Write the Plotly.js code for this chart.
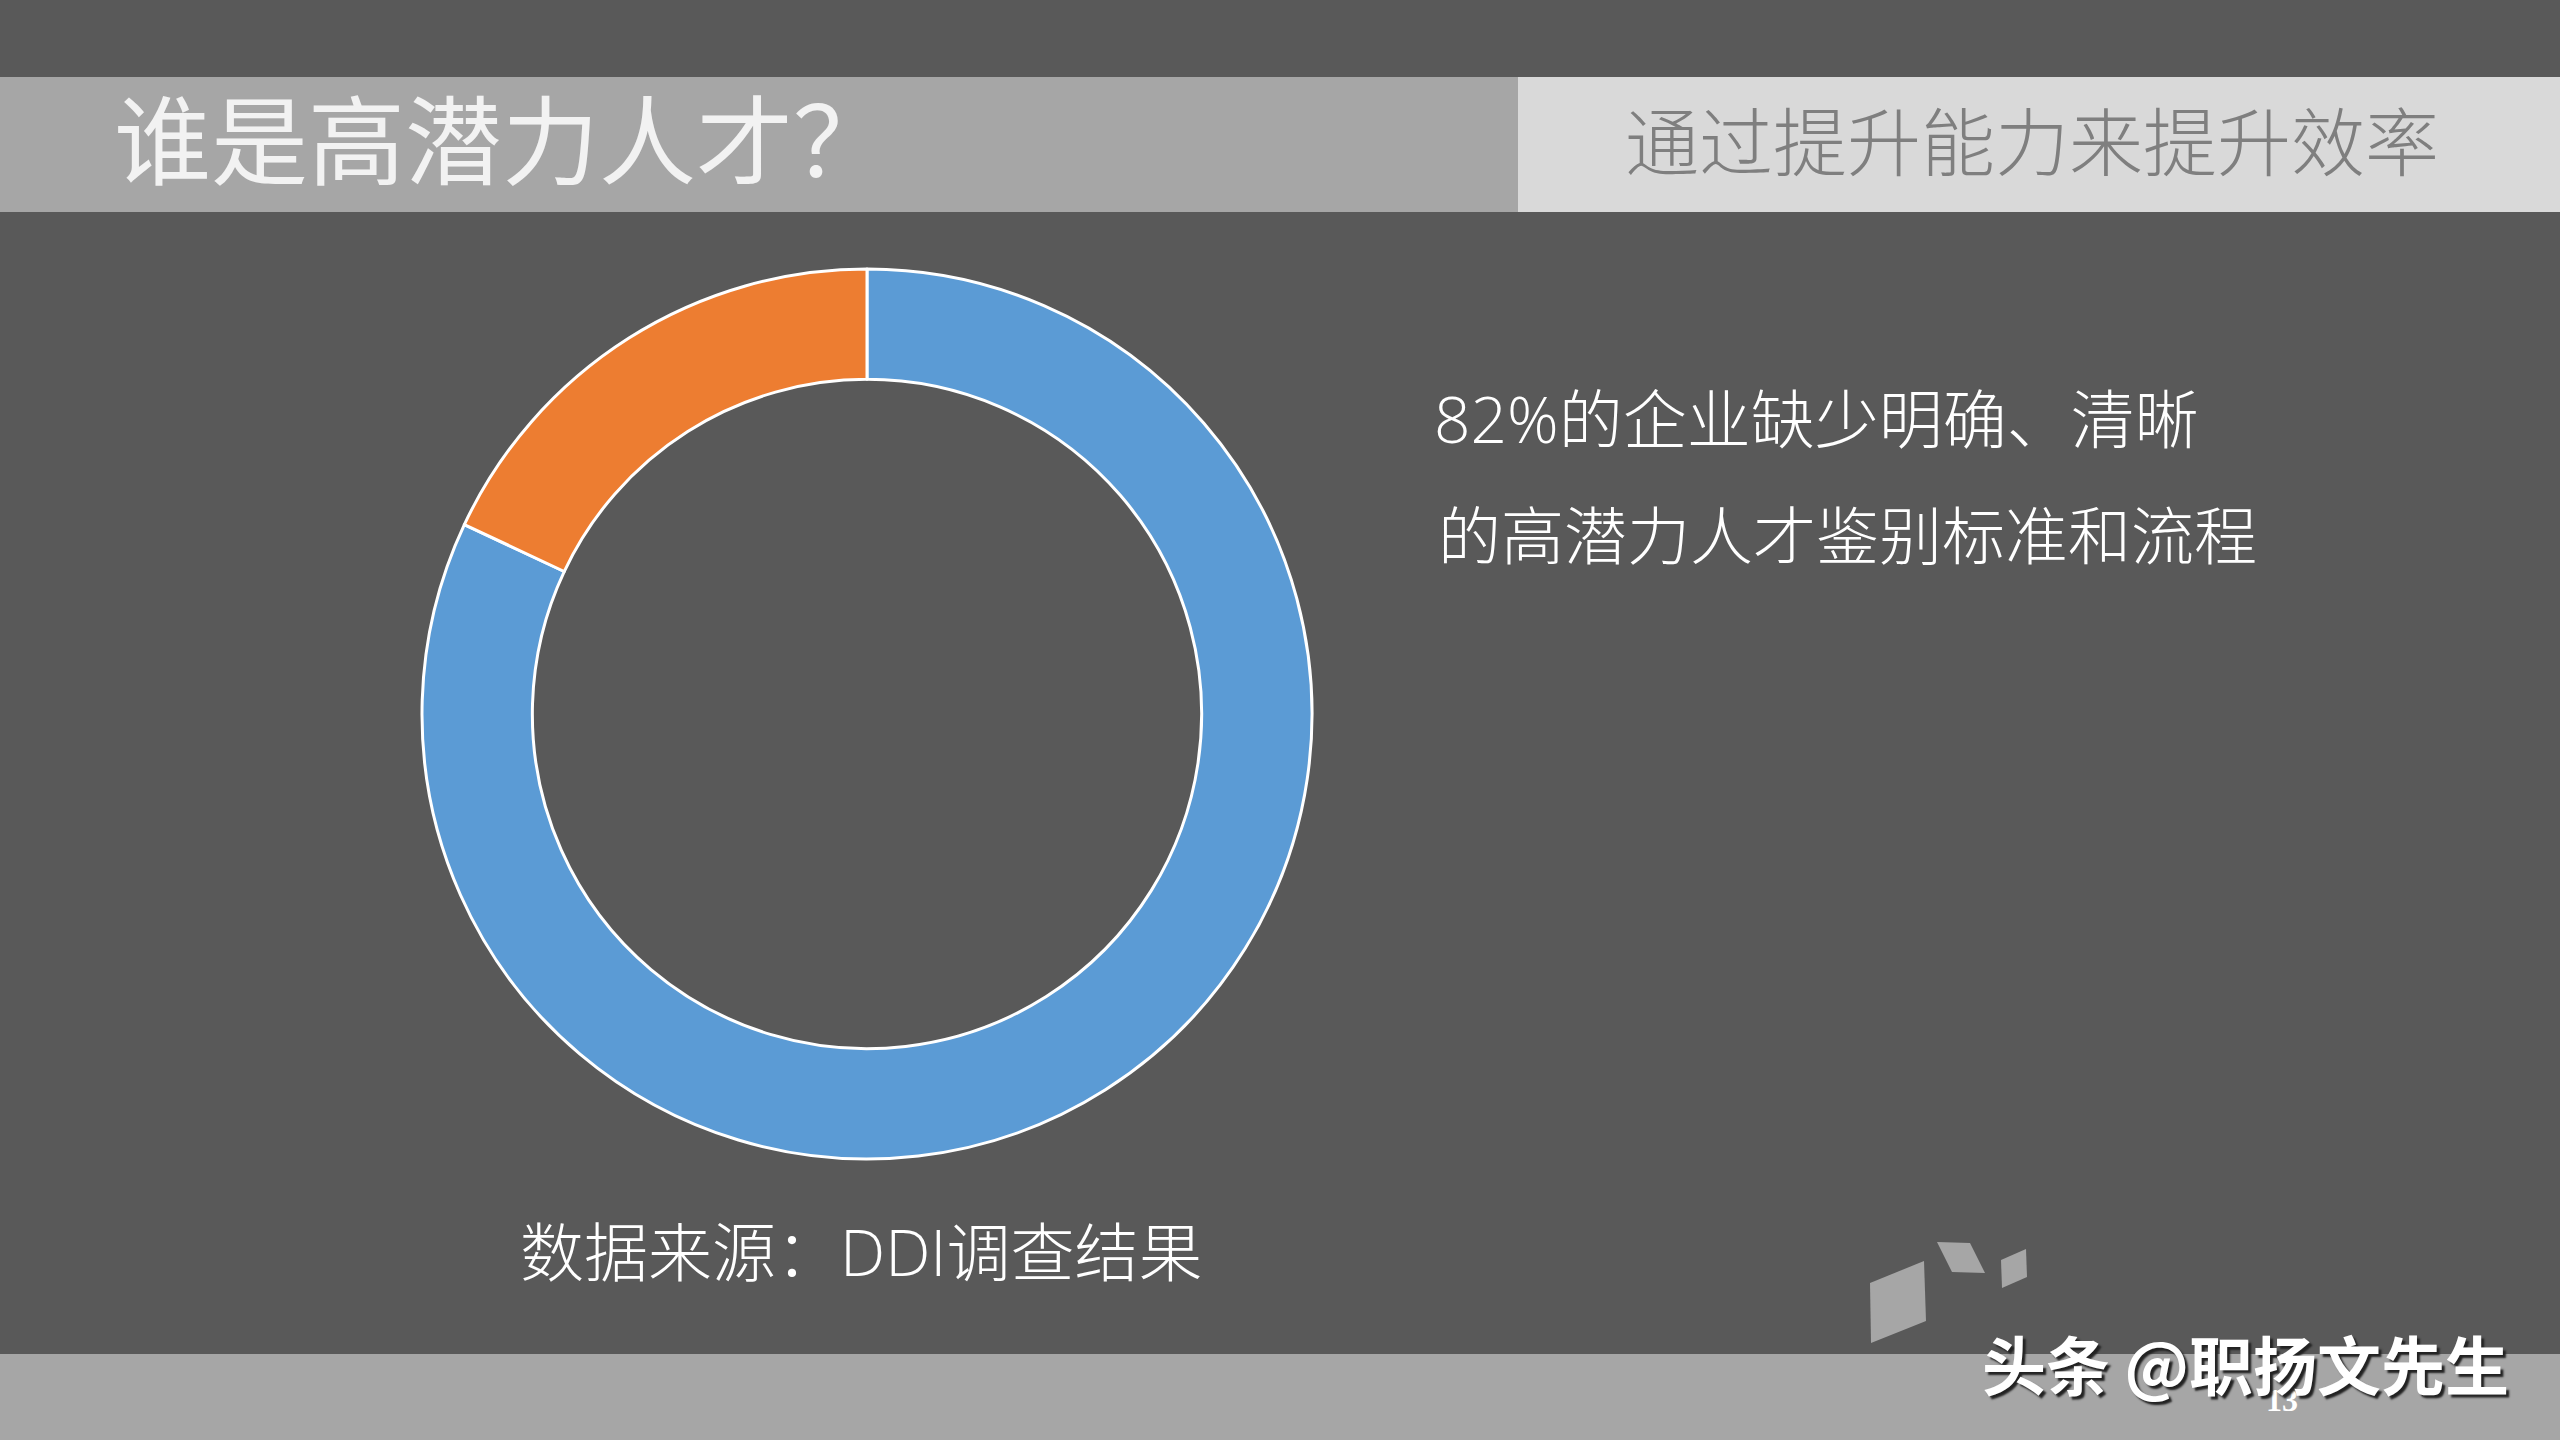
<!DOCTYPE html>
<html>
<head>
<meta charset="utf-8">
<script src="https://cdn.plot.ly/plotly-3.0.1.min.js"></script>
<style>
html,body{margin:0;padding:0;background:#595959;}
#chart{width:2560px;height:1440px;}
</style>
</head>
<body>
<div id="chart"></div>
<script>
// Data
const sliceLabels = ["缺少明确、清晰的鉴别标准和流程", "其他"];
const sliceValues = [82, 18];
const sliceColors = ["#5b9bd5", "#ed7d31"];

const titleText = "谁是高潜力人才？";
const subtitleText = "通过提升能力来提升效率";
const noteLine1 = "82%的企业缺少明确、清晰";
const noteLine2 = "的高潜力人才鉴别标准和流程";
const sourceText = "数据来源：DDI调查结果";
const watermarkText = "头条 @职扬文先生";
const pageNumber = "13";

const W = 2560, H = 1440;
const px = x => x / W;
const py = y => 1 - y / H;

const cjk = "'Noto Sans CJK SC', 'Noto Sans', sans-serif";
const latin = "'Open Sans', 'Noto Sans CJK SC', sans-serif";

// Donut placement
const cx = 867, cy = 714, r = 445;

const trace = {
  type: "pie",
  labels: sliceLabels,
  values: sliceValues,
  marker: {colors: sliceColors, line: {color: "#ffffff", width: 3}},
  hole: 0.752,
  sort: false,
  direction: "clockwise",
  rotation: 0,
  textinfo: "none",
  hoverinfo: "label+percent",
  showlegend: false,
  domain: {x: [px(cx - r), px(cx + r)], y: [py(cy + r), py(cy - r)]}
};

function poly(pts) {
  return "M" + pts.map(p => px(p[0]) + "," + py(p[1])).join(" L") + " Z";
}

const shapes = [
  {type: "rect", xref: "paper", yref: "paper", x0: 0, x1: px(1518), y0: py(212), y1: py(77),
   fillcolor: "#a6a6a6", line: {width: 0}, layer: "below"},
  {type: "rect", xref: "paper", yref: "paper", x0: px(1518), x1: 1, y0: py(212), y1: py(77),
   fillcolor: "#d9d9d9", line: {width: 0}, layer: "below"},
  {type: "rect", xref: "paper", yref: "paper", x0: 0, x1: 1, y0: 0, y1: py(1354),
   fillcolor: "#a6a6a6", line: {width: 0}, layer: "below"},
  {type: "path", xref: "paper", yref: "paper", path: poly([[1870,1283],[1924,1261],[1926,1321],[1871,1343]]),
   fillcolor: "#a6a6a6", line: {width: 0}, layer: "below"},
  {type: "path", xref: "paper", yref: "paper", path: poly([[1937,1242],[1970,1243],[1985,1273],[1952,1272]]),
   fillcolor: "#a6a6a6", line: {width: 0}, layer: "below"},
  {type: "path", xref: "paper", yref: "paper", path: poly([[2001,1260],[2026,1249],[2027,1277],[2002,1288]]),
   fillcolor: "#a6a6a6", line: {width: 0}, layer: "below"}
];

const annotations = [
  {text: titleText, xref: "paper", yref: "paper", x: px(112), y: py(134), xanchor: "left", yanchor: "middle",
   showarrow: false, font: {family: cjk, size: 97, color: "#f2f2f2", weight: 400}},
  {text: subtitleText, xref: "paper", yref: "paper", x: px(1623), y: py(137), xanchor: "left", yanchor: "middle",
   showarrow: false, font: {family: cjk, size: 74, color: "#7f7f7f", weight: 300}},
  {text: noteLine1, xref: "paper", yref: "paper", x: px(1432), y: py(418), xanchor: "left", yanchor: "middle",
   showarrow: false, font: {family: latin, size: 64, color: "#ffffff", weight: 300}},
  {text: noteLine2, xref: "paper", yref: "paper", x: px(1436), y: py(531), xanchor: "left", yanchor: "middle",
   showarrow: false, font: {family: cjk, size: 63, color: "#ffffff", weight: 300}},
  {text: sourceText, xref: "paper", yref: "paper", x: px(518), y: py(1251), xanchor: "left", yanchor: "middle",
   showarrow: false, font: {family: latin, size: 64, color: "#ffffff", weight: 300}},
  {text: pageNumber, xref: "paper", yref: "paper", x: px(2282), y: py(1400), xanchor: "center", yanchor: "middle",
   showarrow: false, font: {family: "'Liberation Serif', serif", size: 32, color: "#ffffff", weight: 700}},
  {text: watermarkText, xref: "paper", yref: "paper", x: px(1980), y: py(1362), xanchor: "left", yanchor: "middle",
   showarrow: false, font: {family: cjk, size: 64, color: "#ffffff", weight: 700, shadow: "3px 3px 2px #222"}}
];

const layout = {
  width: W, height: H,
  margin: {l: 0, r: 0, t: 0, b: 0},
  paper_bgcolor: "#595959",
  plot_bgcolor: "#595959",
  showlegend: false,
  shapes: shapes,
  annotations: annotations
};

Plotly.newPlot("chart", [trace], layout, {displayModeBar: false});
</script>
</body>
</html>
